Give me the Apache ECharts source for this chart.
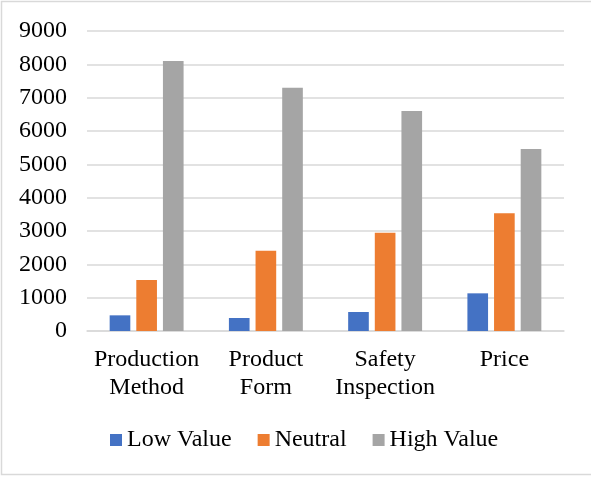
<!DOCTYPE html>
<html>
<head>
<meta charset="utf-8">
<script src="https://cdn.jsdelivr.net/npm/echarts@6/dist/echarts.min.js"></script>
<style>
  html, body { margin: 0; padding: 0; background: #fff; }
  #chart { width: 591px; height: 477px; }
</style>
</head>
<body>
<div id="chart"></div>
<script>
// Categories and series values
const categories = ['Production\nMethod', 'Product\nForm', 'Safety\nInspection', 'Price'];
const lowValue = [470, 390, 570, 1130];
const neutral = [1530, 2410, 2950, 3530];
const highValue = [8100, 7300, 6600, 5460];
const yTicks = { min: 0, max: 9000, interval: 1000 };

const font = '"Liberation Serif", "Times New Roman", serif';
const chart = echarts.init(document.getElementById('chart'), null, { renderer: 'canvas' });

chart.setOption({
  animation: false,
  textStyle: { fontFamily: font },
  graphic: [{
    type: 'rect',
    shape: { x: 1.5, y: 1.5, width: 600, height: 473 },
    style: { fill: 'none', stroke: '#d9d9d9', lineWidth: 1.5 },
    silent: true
  }],
  grid: { left: 87, right: 27, top: 31, bottom: 146, containLabel: false },
  legend: {
    top: 423,
    left: 105,
    itemWidth: 12,
    itemHeight: 12,
    itemGap: 26,
    icon: 'rect',
    textStyle: { fontFamily: font, fontSize: 24, color: '#000' },
    data: ['Low Value', 'Neutral', 'High Value']
  },
  xAxis: {
    type: 'category',
    data: categories,
    axisLine: { lineStyle: { color: '#d9d9d9', width: 1.5 } },
    axisTick: { show: false },
    axisLabel: { interval: 0, fontFamily: font, fontSize: 24, color: '#000', lineHeight: 28, margin: 15 }
  },
  yAxis: {
    type: 'value',
    min: yTicks.min,
    max: yTicks.max,
    interval: yTicks.interval,
    axisLine: { show: false },
    axisTick: { show: false },
    splitLine: { lineStyle: { color: '#d9d9d9', width: 1.5 } },
    axisLabel: { fontFamily: font, fontSize: 24, color: '#000', margin: 20, formatter: v => String(v) }
  },
  series: [
    { name: 'Low Value', type: 'bar', data: lowValue, itemStyle: { color: '#4472c4' },
      barGap: '29%', barCategoryGap: '38%' },
    { name: 'Neutral', type: 'bar', data: neutral, itemStyle: { color: '#ed7d31' } },
    { name: 'High Value', type: 'bar', data: highValue, itemStyle: { color: '#a5a5a5' } }
  ]
});
</script>
</body>
</html>
